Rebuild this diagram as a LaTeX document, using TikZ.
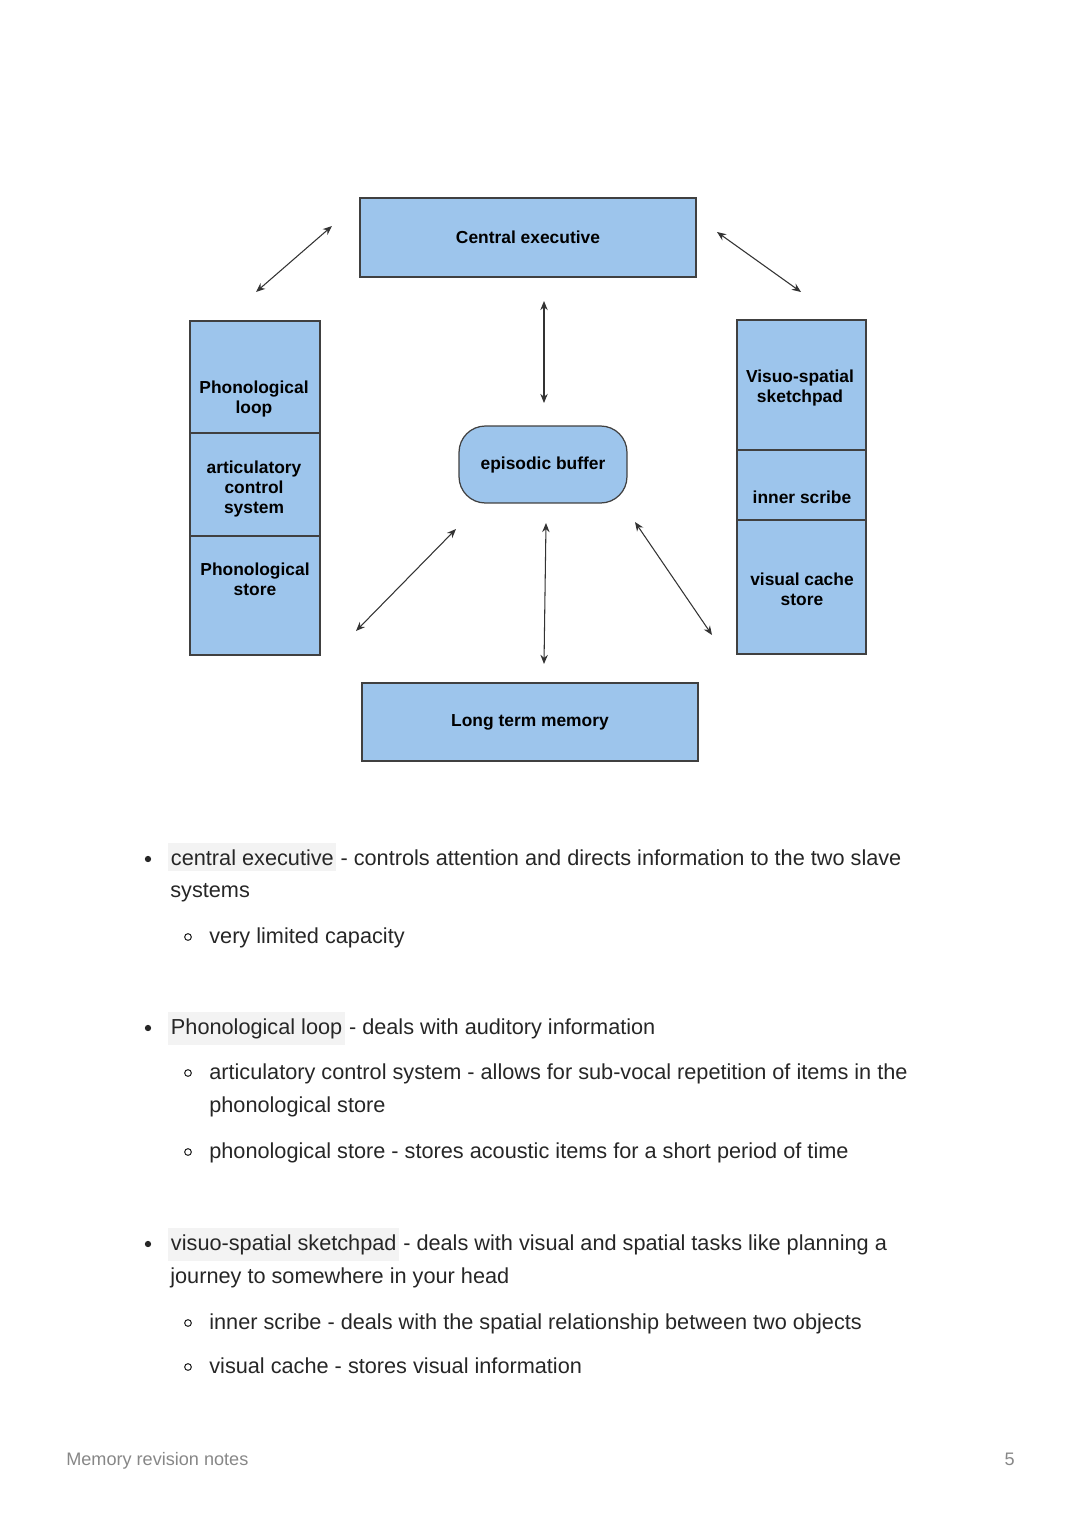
\documentclass[tikz,border=0pt]{standalone}
\usepackage{fontspec}
\setmainfont{Liberation Sans}
\usetikzlibrary{positioning,arrows.meta}
\definecolor{boxblue}{RGB}{157,197,236}
\definecolor{boxline}{RGB}{64,64,64}
\definecolor{hlgray}{RGB}{243,243,243}
\definecolor{footgray}{RGB}{135,135,135}

\begin{document}
\begin{tikzpicture}[x=0.02cm,y=-0.02cm]
    \tikzset{
        box/.style={draw=boxline, fill=boxblue, line width=0.7pt, inner sep=0pt,
            font=\fontsize{9.9}{11.4}\selectfont\bfseries, align=center},
        lbl/.style={font=\fontsize{9.9}{11.4}\selectfont\bfseries, align=center, inner sep=0pt},
        link/.style={{Stealth[length=5.2pt,width=4.2pt]}-{Stealth[length=5.2pt,width=4.2pt]},
            line width=0.6pt, draw=black!80},
        body/.style={font=\fontsize{12.35}{14}\selectfont, anchor=base west, inner sep=0pt, text=black!85},
        hl/.style={body, fill=hlgray, inner xsep=1.5pt, inner ysep=3.5pt},
        dot/.style={circle, fill=black!85, inner sep=0pt, minimum size=3.6pt},
        odot/.style={circle, draw=black!85, line width=0.6pt, inner sep=0pt, minimum size=3.8pt},
    }
    \useasboundingbox (0,0) rectangle (1080,1528);
    % the model
    \node[box, minimum width=6.72cm, minimum height=1.58cm] (ce) at (528,237.5) {Central executive};
    \node[box, minimum width=6.72cm, minimum height=1.56cm] (ltm) at (530,722) {Long term memory};
    \node[box, minimum width=3.36cm, minimum height=1.54cm, rounded corners=15pt] (eb) at (543,464.5) {episodic buffer};
    % phonological loop
    \node[box, minimum width=2.6cm, minimum height=2.24cm] (pl) at (255,377) {};
    \node[box, minimum width=2.6cm, minimum height=2.06cm] (acs) at (255,484.5) {};
    \node[box, minimum width=2.6cm, minimum height=2.38cm] (ps) at (255,595.5) {};
    \node[lbl] (pltxt) at (254,399) {Phonological\\loop};
    \node[lbl] (acstxt) at (254,489) {articulatory\\control\\system};
    \node[lbl] (pstxt) at (255,579) {Phonological\\store};
    % visuo-spatial sketchpad
    \node[box, minimum width=2.58cm, minimum height=2.6cm] (vss) at (801.5,385) {};
    \node[box, minimum width=2.58cm, minimum height=1.4cm] (is) at (801.5,485) {};
    \node[box, minimum width=2.58cm, minimum height=2.68cm] (vc) at (801.5,587) {};
    \node[lbl] (vsstxt) at (800,388) {Visuo-spatial\\sketchpad};
    \node[lbl] (istxt) at (802,497) {inner scribe};
    \node[lbl] (vctxt) at (802,589) {visual cache\\store};
    % arrows
    \coordinate (a1) at (256,292); \coordinate (b1) at (332,226);
    \coordinate (a2) at (717,232); \coordinate (b2) at (801,292);
    \coordinate (a3) at (544,301); \coordinate (b3) at (544,403);
    \coordinate (a4) at (356,631); \coordinate (b4) at (456,529);
    \coordinate (a5) at (546,523); \coordinate (b5) at (544,664);
    \coordinate (a6) at (635,522); \coordinate (b6) at (712,635);
    \foreach \i in {1,...,6}
        \draw[link] (a\i) -- (b\i);
    % notes
    \node[dot] (d1) at (148,859) {};
    \node[hl] (n1) at (168,865) {central executive};
    \node[body, xshift=-1.5pt] (n1b) at (n1.base east) {\ - controls attention and directs information to the two slave};
    \node[body] (n2) at (170,897) {systems};
    \node[odot] (d3) at (188,937) {};
    \node[body] (n3) at (209,943) {very limited capacity};
    \node[dot] (d4) at (148,1028) {};
    \node[hl] (n4) at (168,1034) {Phonological loop};
    \node[body, xshift=-1.5pt] (n4b) at (n4.base east) {\ - deals with auditory information};
    \node[odot] (d5) at (188,1073) {};
    \node[body] (n5) at (209,1079) {articulatory control system - allows for sub-vocal repetition of items in the};
    \node[body] (n6) at (209,1112) {phonological store};
    \node[odot] (d7) at (188,1152) {};
    \node[body] (n7) at (209,1158) {phonological store - stores acoustic items for a short period of time};
    \node[dot] (d8) at (148,1244) {};
    \node[hl] (n8) at (168,1250) {visuo-spatial sketchpad};
    \node[body, xshift=-1.5pt] (n8b) at (n8.base east) {\ - deals with visual and spatial tasks like planning a};
    \node[body] (n9) at (170,1283) {journey to somewhere in your head};
    \node[odot] (d10) at (188,1323) {};
    \node[body] (n10) at (209,1329) {inner scribe - deals with the spatial relationship between two objects};
    \node[odot] (d11) at (188,1367) {};
    \node[body] (n11) at (209,1373) {visual cache - stores visual information};
    % footer
    \node[body, text=footgray, font=\fontsize{10.3}{12}\selectfont] (foot) at (66,1465) {Memory revision notes};
    \node[body, text=footgray, font=\fontsize{10.3}{12}\selectfont, anchor=base east] (page) at (1015,1465) {5};
\end{tikzpicture}
\end{document}
